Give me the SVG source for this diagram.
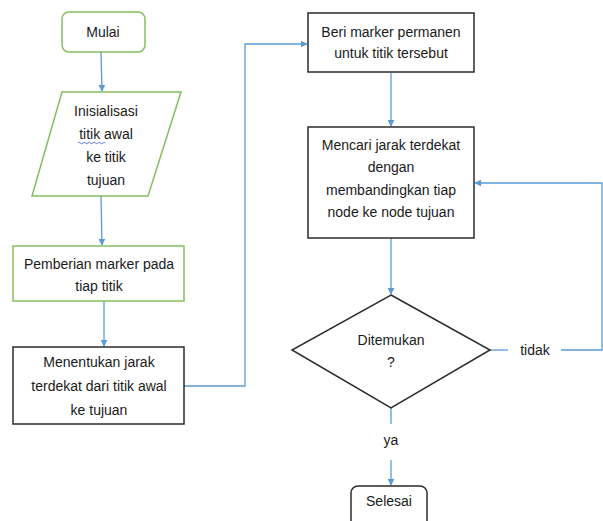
<svg xmlns="http://www.w3.org/2000/svg" width="603" height="521" viewBox="0 0 603 521">
  <style>
    .txt { font-family: "Liberation Sans", Arial, sans-serif; font-size: 14px; fill: #1a1a1a; text-anchor: middle; }
    .green { fill: #ffffff; stroke: #84bf5e; stroke-width: 1.5; }
    .dark { fill: #ffffff; stroke: #2b2b2b; stroke-width: 1.5; }
    .conn { fill: none; stroke: #5b9bd5; stroke-width: 1.3; }
  </style>
  <defs>
    <marker id="arrow" viewBox="0 0 10 10" refX="9" refY="5" markerWidth="7" markerHeight="7" markerUnits="userSpaceOnUse" orient="auto">
      <path d="M0,0 L10,5 L0,10 z" fill="#5b9bd5"/>
    </marker>
  </defs>
  <rect width="603" height="521" fill="#ffffff"/>

  <!-- connectors -->
  <g id="connectors">
    <line class="conn" x1="101" y1="52" x2="102" y2="91" marker-end="url(#arrow)"/>
    <line class="conn" x1="101" y1="196" x2="102" y2="245" marker-end="url(#arrow)"/>
    <line class="conn" x1="104" y1="301" x2="104" y2="346" marker-end="url(#arrow)"/>
    <polyline class="conn" points="184,386 245,386 245,44 307,44" marker-end="url(#arrow)"/>
    <line class="conn" x1="391" y1="73" x2="391" y2="126" marker-end="url(#arrow)"/>
    <line class="conn" x1="391" y1="238" x2="391" y2="294" marker-end="url(#arrow)"/>
    <line class="conn" x1="490" y1="350" x2="508" y2="350"/>
    <polyline class="conn" points="561,350 602,350 602,183 475,183" marker-end="url(#arrow)"/>
    <line class="conn" x1="391" y1="408" x2="391" y2="424"/>
    <line class="conn" x1="391" y1="460" x2="391" y2="485" marker-end="url(#arrow)"/>
    <text class="txt" x="535" y="355">tidak</text>
    <text class="txt" x="391" y="445">ya</text>
  </g>

  <g id="mulai">
    <rect class="green" x="62" y="12" width="83" height="40" rx="7"/>
    <text class="txt" x="103" y="37">Mulai</text>
  </g>

  <g id="inisialisasi">
    <polygon class="green" points="62,92 181,92 148,196 32,196"/>
    <text class="txt" x="106" y="116">Inisialisasi</text>
    <text class="txt" x="106" y="139">titik awal</text>
    <text class="txt" x="106" y="162">ke titik</text>
    <text class="txt" x="106" y="185">tujuan</text>
    <path d="M78,143 q1.25,-1.5 2.5,0 t2.5,0 t2.5,0 t2.5,0 t2.5,0 t2.5,0 t2.5,0 t2.5,0 t2.5,0 t2.5,0 t2.5,0" fill="none" stroke="#3d5bd9" stroke-width="0.8"/>
  </g>

  <g id="pemberian">
    <rect class="green" x="13" y="246" width="171" height="55"/>
    <text class="txt" x="99" y="269">Pemberian marker pada</text>
    <text class="txt" x="99" y="291">tiap titik</text>
  </g>

  <g id="menentukan">
    <rect class="dark" x="13" y="347" width="171" height="77"/>
    <text class="txt" x="99" y="367">Menentukan jarak</text>
    <text class="txt" x="99" y="391">terdekat dari titik awal</text>
    <text class="txt" x="99" y="415">ke tujuan</text>
  </g>

  <g id="beri-marker">
    <rect class="dark" x="308" y="13" width="166" height="59"/>
    <text class="txt" x="391" y="37">Beri marker permanen</text>
    <text class="txt" x="391" y="58">untuk titik tersebut</text>
  </g>

  <g id="mencari">
    <rect class="dark" x="308" y="127" width="166" height="111"/>
    <text class="txt" x="391" y="150">Mencari jarak terdekat</text>
    <text class="txt" x="391" y="172">dengan</text>
    <text class="txt" x="391" y="195">membandingkan tiap</text>
    <text class="txt" x="391" y="217">node ke node tujuan</text>
  </g>

  <g id="ditemukan">
    <polygon class="dark" points="391,295 490,350 391,408 292,350"/>
    <text class="txt" x="391" y="345">Ditemukan</text>
    <text class="txt" x="391" y="367">?</text>
  </g>

  <g id="selesai">
    <rect class="dark" x="351" y="486" width="76" height="44" rx="7"/>
    <text class="txt" x="389" y="506">Selesai</text>
  </g>
</svg>
